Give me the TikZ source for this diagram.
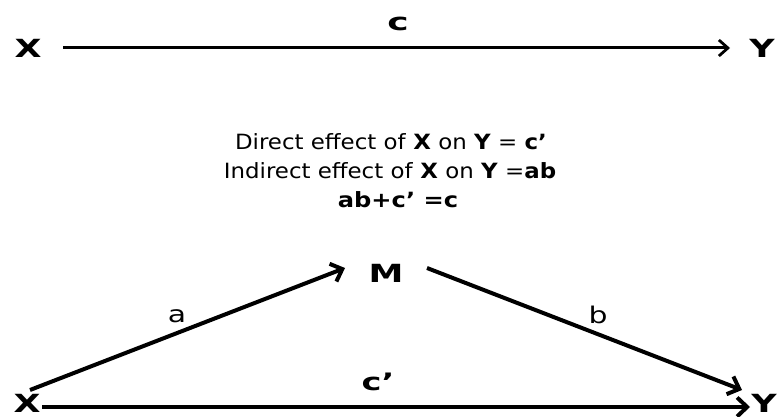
\documentclass[tikz,border=0pt]{standalone}
\usepackage{fontspec}
\usepackage{graphicx}
\setmainfont{DejaVu Sans}
\usetikzlibrary{arrows.meta}
\newcommand\wid[2]{\scalebox{#1}[1]{#2}}
\tikzset{
  lbl/.style={inner sep=0pt, font=\fontsize{25}{28}\selectfont\bfseries},
  small/.style={inner sep=0pt, font=\fontsize{23}{26}\selectfont},
  smallbf/.style={inner sep=0pt, font=\fontsize{24}{26}\selectfont\bfseries},
  txt/.style={inner sep=0pt, font=\fontsize{21}{24}\selectfont},
  arr/.style={line width=3pt, -{Straight Barb[length=9pt,width=16pt,line width=2.8pt]}},
  thick arr/.style={line width=4pt, -{Straight Barb[length=10pt,width=19pt,line width=4pt]}},
}
\begin{document}
\begin{tikzpicture}[x=1pt,y=-1pt]
\useasboundingbox (0,0) rectangle (779,417);
% top
\node[lbl] (X1) at (28,48) {\wid{1.4}{X}};
\node[lbl] (Y1) at (762,48) {\wid{1.4}{Y}};
\node[smallbf] (c) at (398,24) {\wid{1.5}{c}};
\draw[arr] ([shift={(35,0)}]X1.center) -- ([shift={(-32,0)}]Y1.center);
% text
\node[txt] (t1) at (391,142) {\wid{1.09}{Direct effect of \textbf{X} on \textbf{Y} = \textbf{c’}}};
\node[txt] (t2) at (390,171) {\wid{1.09}{Indirect effect of \textbf{X} on \textbf{Y} =\textbf{ab}}};
\node[txt] (t3) at (398,200) {\wid{1.15}{\textbf{ab+c’ =c}}};
% bottom
\node[lbl] (M) at (386,273) {\wid{1.4}{M}};
\node[lbl] (X2) at (27,403) {\wid{1.4}{X}};
\node[lbl] (Y2) at (764,403) {\wid{1.4}{Y}};
\draw[thick arr] ([shift={(3,-13)}]X2.center) -- ([shift={(-41,-5)}]M.center);
\draw[thick arr] ([shift={(41,-5)}]M.center) -- ([shift={(-22,-13)}]Y2.center);
\draw[thick arr] ([shift={(15,4)}]X2.center) -- ([shift={(-14,4)}]Y2.center);
\node[small] (la) at (177,316) {\wid{1.3}{a}};
\node[small] (lb) at (598,315) {\wid{1.3}{b}};
\node[smallbf] (lc) at (378,382) {\wid{1.4}{c’}};
\end{tikzpicture}
\end{document}
